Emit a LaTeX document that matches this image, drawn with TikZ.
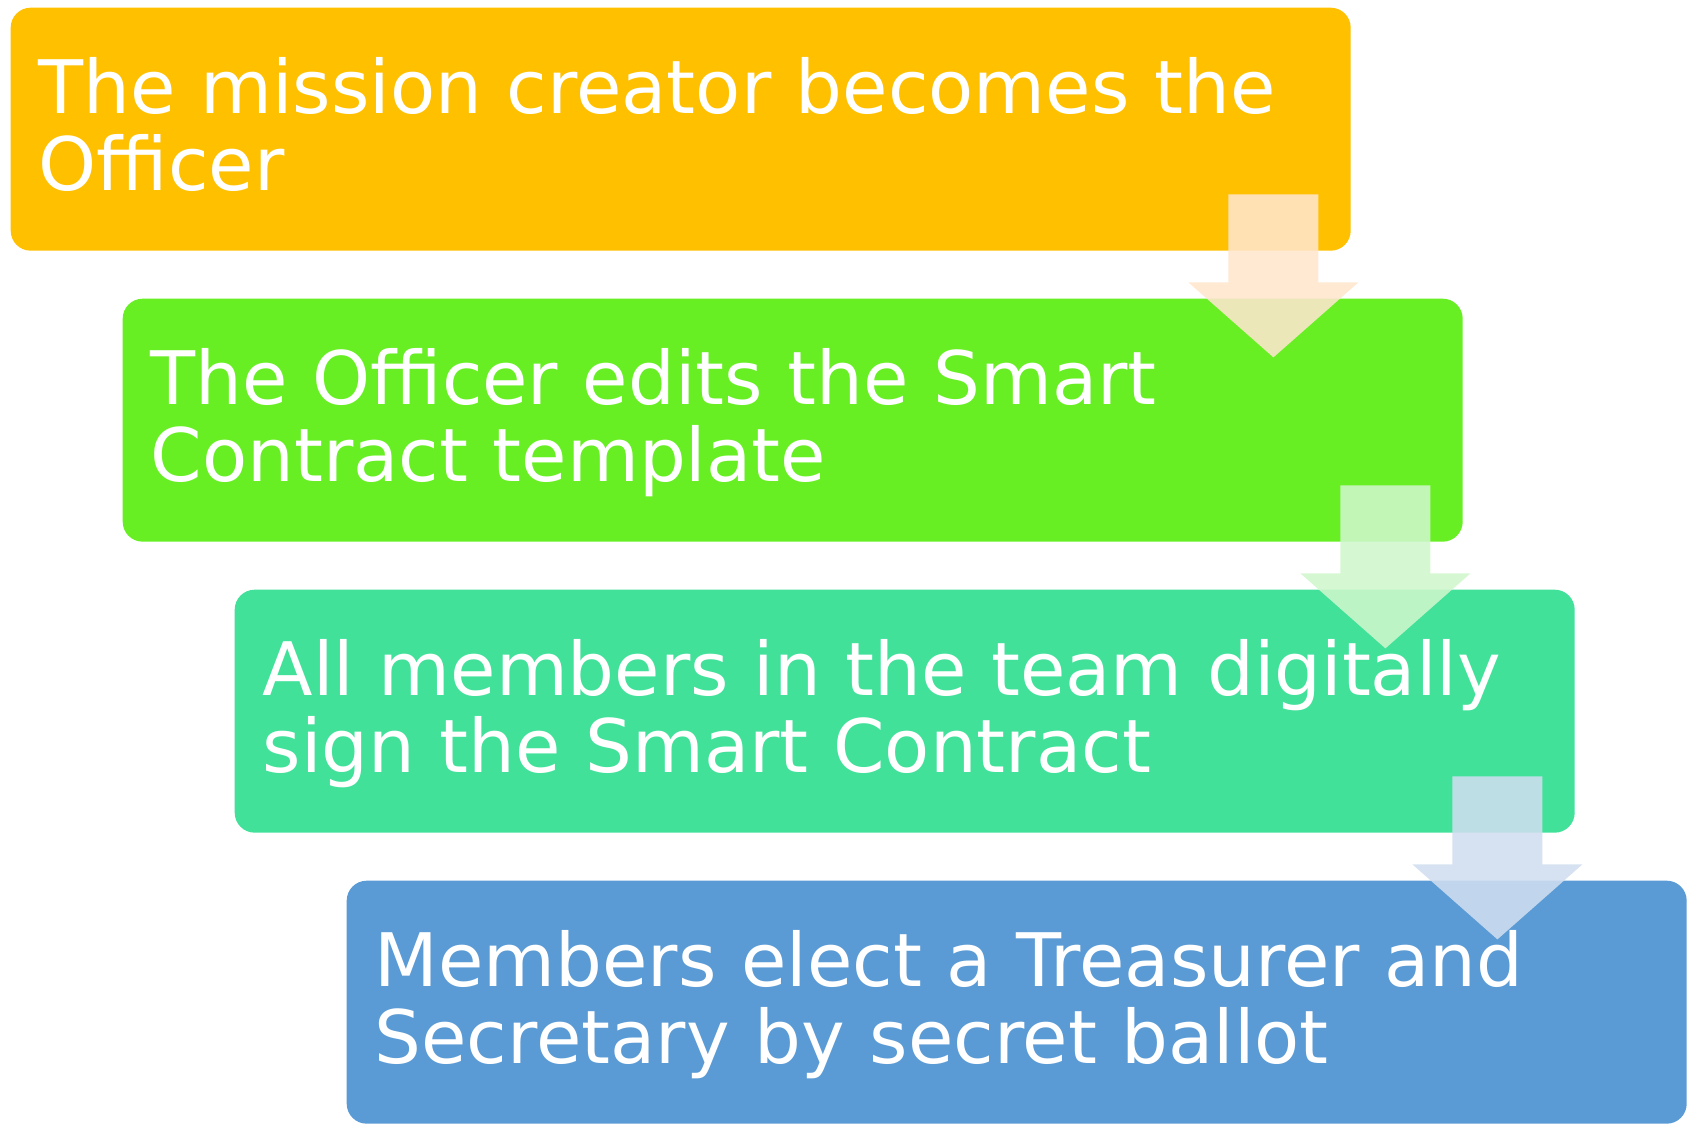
\documentclass[tikz,border=0pt]{standalone}
\usepackage{fontspec}
\setmainfont{DejaVu Sans}
\usepackage{tikz}
\usetikzlibrary{positioning,calc}
\definecolor{Gold}{HTML}{FFC000}
\definecolor{Lime}{HTML}{67EF23}
\definecolor{Jade}{HTML}{41E19A}
\definecolor{Steel}{HTML}{5B9BD5}
\definecolor{Peach}{HTML}{FFE6CD}
\definecolor{Mint}{HTML}{CFF7CC}
\definecolor{Mist}{HTML}{D0DEF0}
\tikzset{
    % one step of the procedure
    stepbox/.style={
        rectangle,
        rounded corners=0.2cm,
        draw=none,
        fill=#1,
        minimum width=13.4cm,
        minimum height=2.43cm,
        text width=12.84cm,
        inner xsep=0.28cm,
        inner ysep=0pt,
        text height=1.06cm,
        text depth=1.37cm,
        align=left,
        text=white,
        anchor=north west,
        font=\fontsize{21.0}{21.9}\selectfont
    },
    % pale arrow between two steps
    steparrow/.style={
        fill=#1,
        fill opacity=0.88,
        draw=none
    }
}

\begin{document}
\begin{tikzpicture}
    \useasboundingbox (0,0) rectangle (16.96,-11.30);
    \node[stepbox=Gold] (s1) at (0.10,-0.07) {The mission creator becomes the\\Officer};
    \node[stepbox=Lime] (s2) at ($(s1.north west)+(1.12,-2.91)$) {The Officer edits the Smart\\Contract template};
    \node[stepbox=Jade] (s3) at ($(s2.north west)+(1.12,-2.91)$) {All members in the team digitally\\sign the Smart Contract};
    \node[stepbox=Steel] (s4) at ($(s3.north west)+(1.12,-2.91)$) {Members elect a Treasurer and\\Secretary by secret ballot};
    % arrows drawn over the boxes
    \foreach \from/\col in {s1/Peach, s2/Mint, s3/Mist}{
        \fill[steparrow=\col]
            ($(\from.south east)+(-1.23,0.57)$) -- ($(\from.south east)+(-0.33,0.57)$)
            -- ($(\from.south east)+(-0.33,-0.31)$) -- ($(\from.south east)+(0.07,-0.31)$)
            -- ($(\from.south east)+(-0.78,-1.06)$) -- ($(\from.south east)+(-1.63,-0.31)$)
            -- ($(\from.south east)+(-1.23,-0.31)$) -- cycle;
    }
\end{tikzpicture}
\end{document}
